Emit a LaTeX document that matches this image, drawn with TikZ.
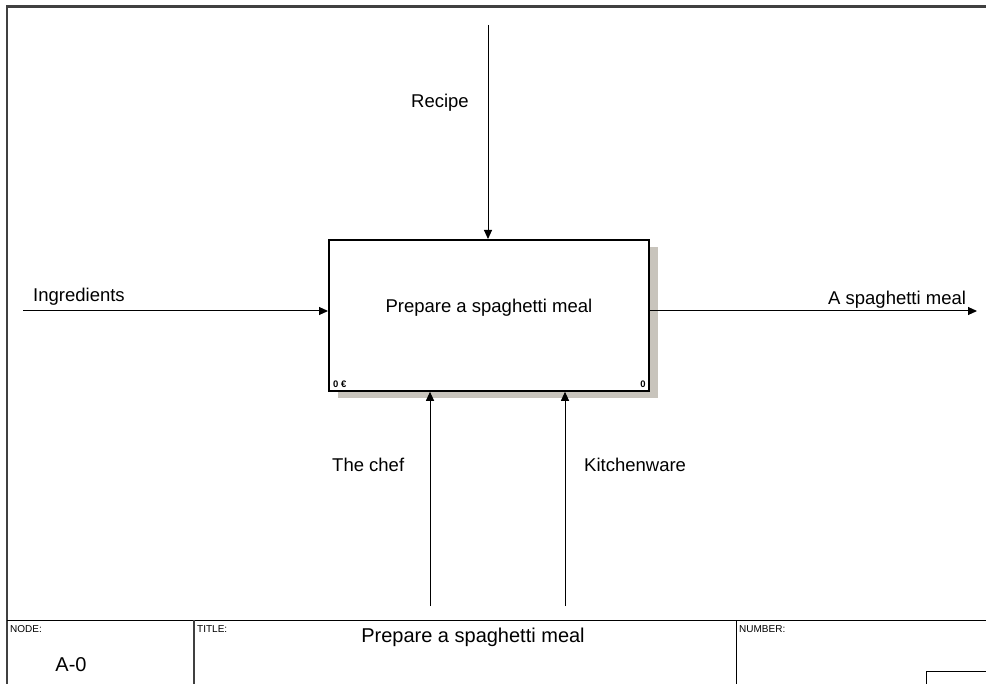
\documentclass[tikz,border=0pt]{standalone}
\usepackage{fontspec}
\setmainfont{Liberation Sans}
\usetikzlibrary{arrows.meta,patterns}
\definecolor{frame}{HTML}{404040}
\definecolor{shadowc}{HTML}{C8C4BC}
\tikzset{
  flow/.style={draw=black, line width=1pt, -{Triangle[length=9pt,width=8pt]}},
  lbl/.style={font=\fontsize{18.5}{20}\selectfont, inner sep=0pt, anchor=base west},
  small/.style={font=\fontsize{10}{11}\selectfont, inner sep=0pt, anchor=north west},
  activity/.style={draw=black, line width=1.8pt, fill=white, minimum width=320pt, minimum height=151pt, inner sep=0pt},
}
\begin{document}
\begin{tikzpicture}[x=1pt,y=-1pt]
\useasboundingbox (0,0) rectangle (986,684);
% frame
\draw[frame, line width=3pt] (6,6.5) -- (986,6.5);
\draw[frame, line width=2pt] (7,6) -- (7,684);
% title block
\draw[black, line width=1pt] (7,620) -- (986,620);
\draw[frame, line width=1.5pt] (194,620) -- (194,684);
\draw[black, line width=1pt] (736,620) -- (736,684);
\draw[black, line width=1pt] (926,684) -- (926,671) -- (986,671);
\node[small] (nodelbl) at (10,625) {NODE:};
\node[small] (titlelbl) at (197,625) {TITLE:};
\node[small] (numlbl) at (739,625) {NUMBER:};
\node[font=\fontsize{20}{22}\selectfont, inner sep=0pt] (a0) at (71,665) {A-0};
\node[font=\fontsize{20}{22}\selectfont, inner sep=0pt] (ttl) at (473,637) {Prepare a spaghetti meal};
% shadow
\fill[shadowc] (338,247) rectangle (658,398);
% activity box
\node[activity, anchor=north west] (box) at (328,239) {};
\node[font=\fontsize{18.5}{20}\selectfont, inner sep=0pt] (boxtext) at ([yshift=8]box.center) {Prepare a spaghetti meal};
\node[small, font=\bfseries\fontsize{9.5}{10}\selectfont, anchor=south west] (cost) at ([shift={(5,-4)}]box.south west) {0 €};
\node[small, font=\bfseries\fontsize{9.5}{10}\selectfont, anchor=south east] (num) at ([shift={(-4,-4)}]box.south east) {0};
% arrows
\coordinate (recipeS) at (488,25);
\coordinate (ingS) at (23,311);
\coordinate (outE) at (977,311);
\coordinate (chefS) at (430,606);
\coordinate (kitS) at (565,606);
\draw[flow] (recipeS) -- (recipeS |- box.north);
\draw[flow] (ingS) -- (ingS -| box.west);
\draw[flow] (box.east |- outE) -- (outE);
\draw[flow] (chefS) -- (chefS |- box.south);
\draw[flow] (kitS) -- (kitS |- box.south);
% labels
\node[lbl] (recipeL) at (411,108) {Recipe};
\node[lbl] (ingL) at (33,302) {Ingredients};
\node[lbl] (outL) at (828,305) {A spaghetti meal};
\node[lbl] (chefL) at (332,472) {The chef};
\node[lbl] (kitL) at (584,472) {Kitchenware};
\end{tikzpicture}
\end{document}
